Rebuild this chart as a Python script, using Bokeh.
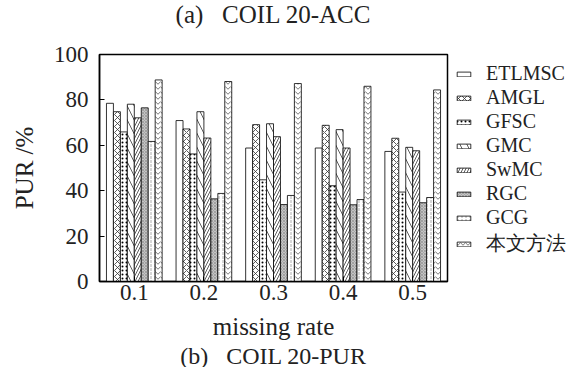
from bokeh.plotting import figure
from bokeh.models import Legend, LegendItem, Title, ColumnDataSource, FixedTicker
from bokeh.transform import dodge
from bokeh.embed import file_html
from bokeh.resources import INLINE

rates = ["0.1", "0.2", "0.3", "0.4", "0.5"]
methods = ["ETLMSC", "AMGL", "GFSC", "GMC", "SwMC", "RGC", "GCG", "本文方法"]
etlmsc = [78.5, 70.9, 58.8, 58.8, 57.3]
amgl = [74.8, 67.2, 69.1, 68.8, 63.1]
gfsc = [65.9, 56.2, 44.8, 42.2, 39.4]
gmc = [78.1, 74.8, 69.5, 66.9, 59.1]
swmc = [72.1, 63.2, 63.8, 58.8, 57.6]
rgc = [76.5, 36.4, 33.9, 33.8, 34.7]
gcg = [61.7, 38.8, 37.9, 36.1, 37.0]
ours = [88.8, 88.1, 87.2, 86.0, 84.4]
series = [etlmsc, amgl, gfsc, gmc, swmc, rgc, gcg, ours]
y_ticks = [0, 20, 40, 60, 80, 100]

FONT = "Liberation Serif"
FW, FH = 348, 227

styles = [
    dict(fill_color="white", hatch_pattern=None),
    dict(fill_color="white", hatch_pattern="x", hatch_color="#333333", hatch_scale=6, hatch_weight=0.8),
    dict(fill_color="white", hatch_pattern=".", hatch_color="black", hatch_scale=4, hatch_weight=2.5),
    dict(fill_color="white", hatch_pattern="\\", hatch_color="#333333", hatch_scale=14, hatch_weight=0.8),
    dict(fill_color="white", hatch_pattern="/", hatch_color="#333333", hatch_scale=6, hatch_weight=0.8),
    dict(fill_color="#c4c4c4", hatch_pattern="x", hatch_color="#8a8a8a", hatch_scale=3, hatch_weight=0.6),
    dict(fill_color="white", hatch_pattern=":", hatch_color="#999999", hatch_scale=4, hatch_weight=0.8),
    dict(fill_color="white", hatch_pattern="v", hatch_color="#555555", hatch_scale=5, hatch_weight=0.8),
]

src = ColumnDataSource(dict(rate=rates, **{f"s{i}": s for i, s in enumerate(series)}))

p = figure(x_range=rates, y_range=(0, 100), frame_width=FW, frame_height=FH,
           output_backend="svg", toolbar_location=None,
           min_border_left=99, min_border_right=0, min_border_top=52, min_border_bottom=0)

items = []
n = len(methods)
bw = 0.1
for i, (m, st) in enumerate(zip(methods, styles)):
    off = (i - (n - 1) / 2) * bw
    r = p.vbar(x=dodge("rate", off, range=p.x_range), top=f"s{i}", width=bw, source=src,
               line_color="black", line_width=0.8, **st)
    items.append(LegendItem(label=m, renderers=[r]))

p.xgrid.visible = False
p.ygrid.visible = False
p.outline_line_color = "black"
p.outline_line_width = 1.5
p.background_fill_color = "white"
p.border_fill_color = "white"

p.yaxis.ticker = FixedTicker(ticks=y_ticks)
for ax in (p.xaxis[0], p.yaxis[0]):
    ax.major_label_text_font = FONT
    ax.major_label_text_font_size = "23px"
    ax.major_label_text_color = "#222222"
    ax.axis_label_text_font = FONT
    ax.axis_label_text_font_size = "25px"
    ax.axis_label_text_font_style = "normal"
    ax.axis_label_text_color = "#222222"
    ax.major_tick_in = 5
    ax.major_tick_out = 0
    ax.minor_tick_in = 0
    ax.minor_tick_out = 0
    ax.axis_line_color = "black"
    ax.axis_line_width = 1.5
    ax.major_tick_line_color = "black"

p.yaxis.axis_label = "PUR /%"
p.yaxis.axis_label_standoff = 13
p.yaxis.major_label_standoff = 11
p.xaxis.axis_label = "missing rate"
p.xaxis.major_label_standoff = 3
p.xaxis.axis_label_standoff = 10
p.x_range.range_padding = 0

legend = Legend(items=items, location="top_left", margin=8, padding=2,
                glyph_width=17, glyph_height=6, label_height=20, spacing=1,
                label_standoff=14, label_text_font=FONT, label_text_font_size="20px",
                label_text_color="#222222", border_line_color=None, background_fill_alpha=0)
p.add_layout(legend, "right")

top_title = Title(text="(a)\u00a0\u00a0 COIL 20-ACC", align="center", vertical_align="top",
                  text_font=FONT, text_font_size="25px", text_font_style="normal",
                  text_color="#222222", standoff=0)
try:
    top_title.padding = dict(left=0, right=0, top=0, bottom=25)
except Exception:
    top_title.standoff = 20
p.add_layout(top_title, "above")
p.add_layout(Title(text="(b)\u00a0\u00a0 COIL 20-PUR", align="center", vertical_align="top",
                   text_font=FONT, text_font_size="24px", text_font_style="normal",
                   text_color="#222222", standoff=0), "below")

open("out.html", "w").write(file_html(p, INLINE))
